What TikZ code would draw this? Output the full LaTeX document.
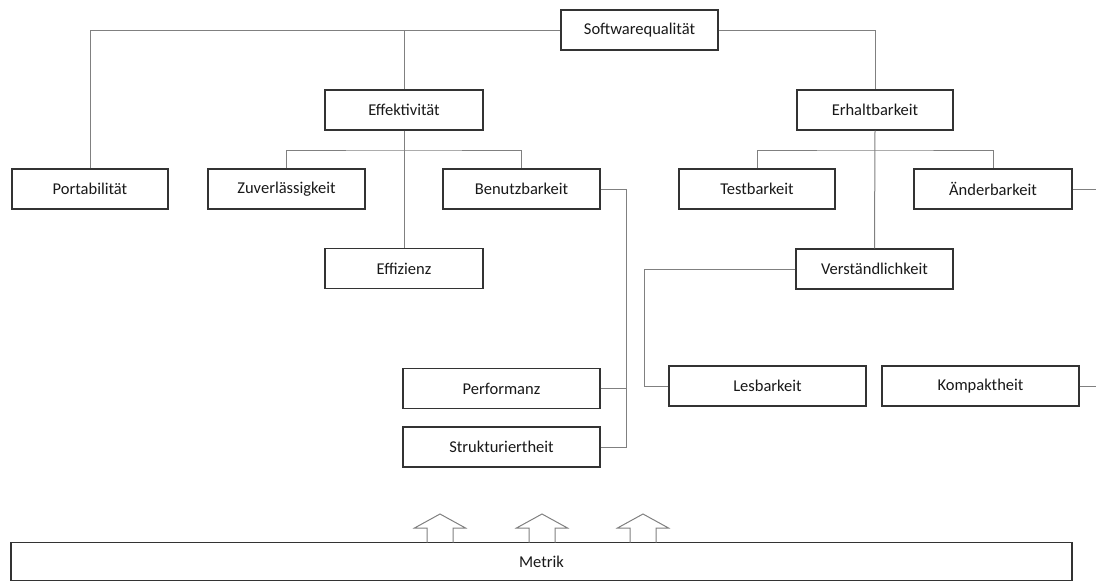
\documentclass[tikz,border=0pt]{standalone}
\usepackage{fontspec}
\setmainfont{Carlito}
\begin{document}
\begin{tikzpicture}[x=1pt,y=-1pt,
  box/.style={draw=black!80,line width=1.4pt,fill=white,rectangle,inner sep=0pt,minimum height=40pt,text=black!90,font=\fontsize{16.5}{19}\selectfont},
  conn/.style={draw=black!50,line width=1pt},
  blockarrow/.style={draw=black!50,line width=1pt,line join=miter}]
\useasboundingbox (0,0) rectangle (1096,581);
% nodes
\node[box,minimum width=157pt] (sq) at (639.5,30) {Softwarequalität};
\node[box,minimum width=158pt] (eff) at (404,110) {Effektivität};
\node[box,minimum width=156pt] (erh) at (875,110) {Erhaltbarkeit};
\node[box,minimum width=156pt] (port) at (90,189) {Portabilität};
\node[box,minimum width=157pt] (zuv) at (286.5,189) {Zuverlässigkeit};
\node[box,minimum width=157pt] (ben) at (521.5,189) {Benutzbarkeit};
\node[box,minimum width=156pt] (test) at (757,189) {Testbarkeit};
\node[box,minimum width=158pt] (aend) at (993,189) {Änderbarkeit};
\node[box,minimum width=158pt] (effz) at (404,268.5) {Effizienz};
\node[box,minimum width=157pt] (vers) at (874.5,269) {Verständlichkeit};
\node[box,minimum width=197pt] (perf) at (501.5,388.5) {Performanz};
\node[box,minimum width=197pt] (strk) at (501.5,447) {Strukturiertheit};
\node[box,minimum width=197pt] (les) at (767.5,386) {Lesbarkeit};
\node[box,minimum width=197pt] (komp) at (980.5,386) {Kompaktheit};
\node[box,minimum width=1061pt,minimum height=38pt] (met) at (541.5,561.5) {Metrik};
% helper coordinates
\coordinate (eh) at (404,150);
\coordinate (rh) at (875,150);
\coordinate (bx) at (626,0);
\coordinate (vx) at (644,0);
\coordinate (re) at (1096,0);
% connectors
\draw[conn] (port.north) |- (sq.west);
\draw[conn] (eff.north) -- (eff.north |- sq.west);
\draw[conn] (sq.east) -| (erh.north);
\draw[conn] (eff.south) -- (effz.north);
\draw[conn] (zuv.north) |- (eh) -| (ben.north);
\draw[conn] (erh.south) -- (vers.north);
\draw[conn] (test.north) |- (rh) -| (aend.north);
\draw[conn] (ben.east) -| (bx |- strk.east) -- (strk.east);
\draw[conn] (perf.east) -- (bx |- perf.east);
\draw[conn] (vers.west) -| (vx |- les.west) -- (les.west);
\draw[conn] (aend.east) -- (re |- aend.east);
\draw[conn] (komp.east) -- (re |- komp.east);
% block arrows on Metrik
\foreach \cx in {440,542,643}{
  \draw[blockarrow] (\cx-13,542.5) -- (\cx-13,528) -- (\cx-25.5,528) -- (\cx,514) -- (\cx+25.5,528) -- (\cx+13,528) -- (\cx+13,542.5);
}
\end{tikzpicture}
\end{document}
